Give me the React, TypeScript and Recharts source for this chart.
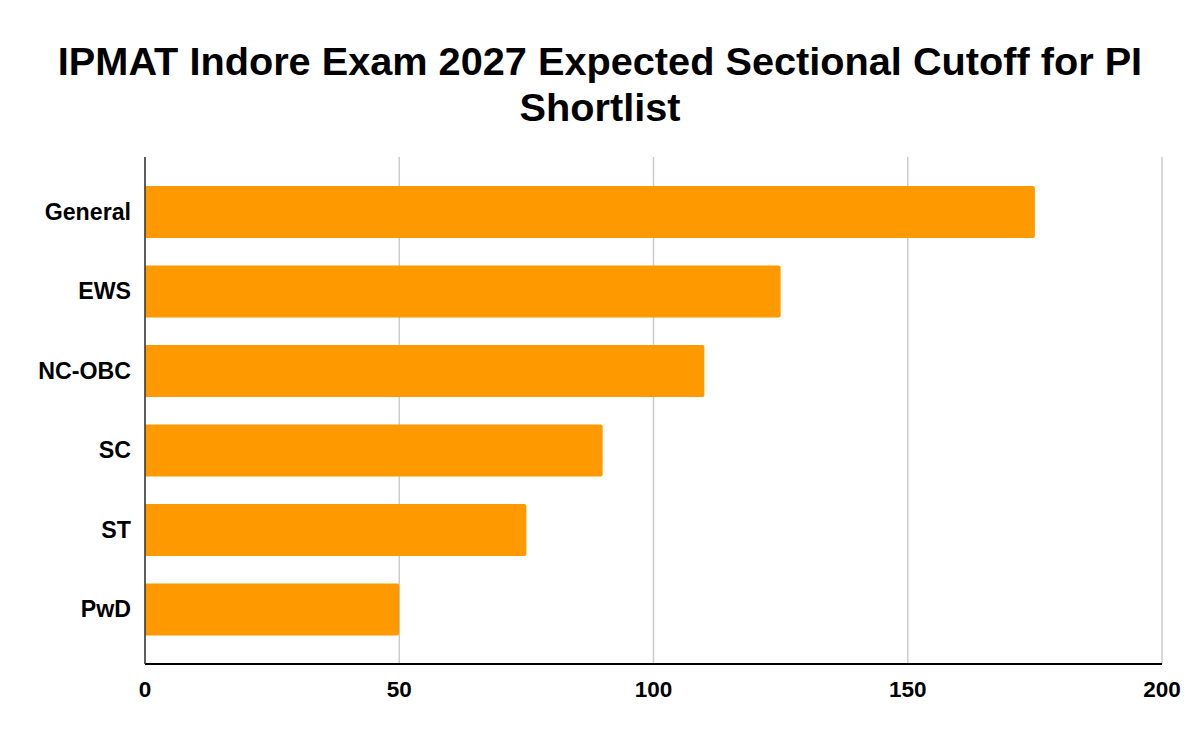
import { BarChart, Bar, XAxis, YAxis, CartesianGrid } from 'recharts'

const categories = ['General', 'EWS', 'NC-OBC', 'SC', 'ST', 'PwD']
const cutoffs = [175, 125, 110, 90, 75, 50]
const xTicks = [0, 50, 100, 150, 200]

const data = categories.map((category, i) => ({ category, cutoff: cutoffs[i] }))

const font = '"Liberation Sans", Arial, sans-serif'

export default function App() {
  return (
    <div style={{ position: 'absolute', left: 0, top: 0, width: 1200, height: 742, background: '#fff', fontFamily: font }}>
      <div
        style={{
          position: 'absolute',
          left: 20,
          top: 38,
          width: 1160,
          textAlign: 'center',
          fontSize: 39.7,
          lineHeight: '46px',
          fontWeight: 'bold',
          color: '#000',
        }}
      >
        IPMAT Indore Exam 2027 Expected Sectional Cutoff for PI Shortlist
      </div>
      <BarChart
        width={1200}
        height={742}
        data={data}
        layout="vertical"
        margin={{ top: 157, right: 38, bottom: 0, left: 0 }}
        barSize={52}
      >
        <CartesianGrid horizontal={false} stroke="#cccccc" strokeWidth={1.5} />
        <XAxis
          type="number"
          domain={[0, 200]}
          ticks={xTicks}
          height={78}
          axisLine={{ stroke: '#000', strokeWidth: 2 }}
          tickLine={false}
          tickSize={0}
          tickMargin={17}
          tick={{ fill: '#000', fontSize: 22.5, fontWeight: 'bold', fontFamily: font }}
        />
        <YAxis
          type="category"
          dataKey="category"
          width={145}
          padding={{ top: 15, bottom: 15 }}
          axisLine={{ stroke: '#333', strokeWidth: 1.5 }}
          tickLine={false}
          tickSize={0}
          tickMargin={14}
          tick={{ fill: '#000', fontSize: 23.2, fontWeight: 'bold', fontFamily: font }}
        />
        <Bar dataKey="cutoff" fill="#ff9900" radius={[0, 2, 2, 0]} isAnimationActive={false} />
      </BarChart>
    </div>
  )
}
